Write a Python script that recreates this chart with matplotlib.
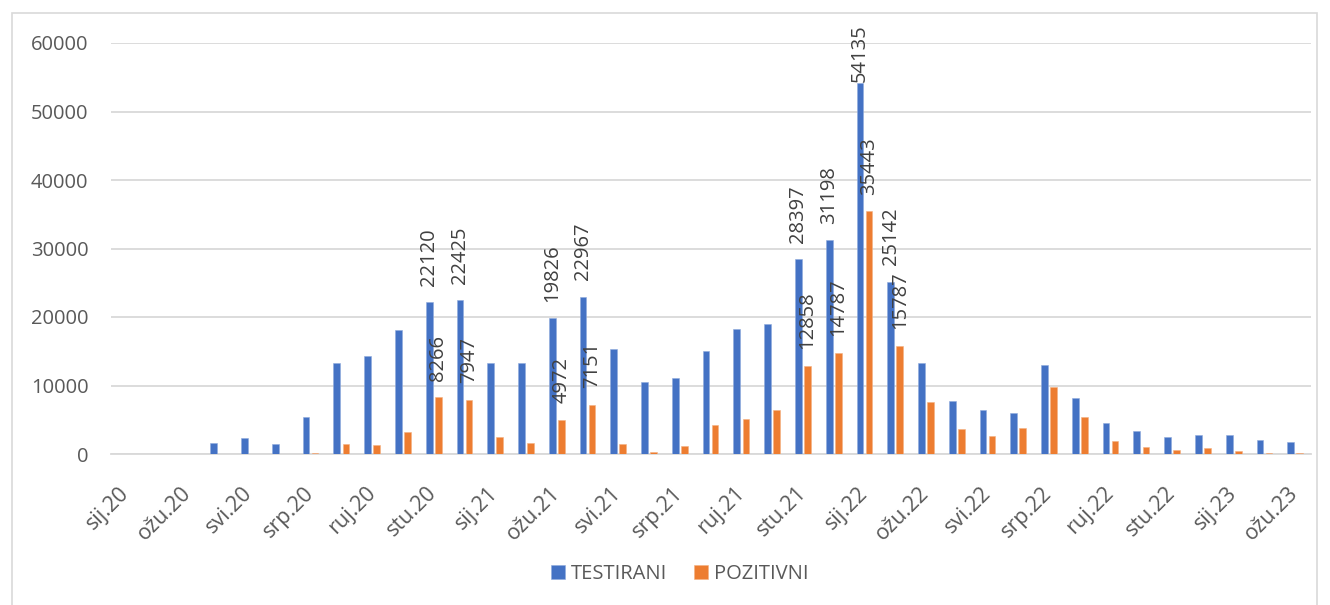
"""Mjesecni broj testiranih i pozitivnih, sij.20 - ozu.23."""

import matplotlib
matplotlib.use('Agg')
import matplotlib.pyplot as plt
from matplotlib.patches import Rectangle
import numpy as np

plt.rcParams['font.family'] = ['Open Sans', 'DejaVu Sans']

MONTHS = ['sij', 'velj', 'ožu', 'tra', 'svi', 'lip',
          'srp', 'kol', 'ruj', 'lis', 'stu', 'pro']
YEARS = ['20', '21', '22', '23']

categories = [f'{m}.{y}' for y in YEARS for m in MONTHS][:39]

testirani = [0, 0, 0, 1600, 2300, 1500, 5350, 13350, 14270, 18110, 22120, 22425,
             13240, 13240, 19826, 22967, 15280, 10540, 11130, 15100, 18200, 18980,
             28397, 31198, 54135, 25142, 13280, 7700, 6430, 6020, 13010, 8200,
             4570, 3360, 2440, 2770, 2770, 2090, 1750]

pozitivni = [0, 0, 0, 40, 40, 40, 150, 1520, 1370, 3250, 8266, 7947,
             2480, 1600, 4972, 7151, 1400, 250, 1130, 4220, 5150, 6370,
             12858, 14787, 35443, 15787, 7550, 3680, 2700, 3790, 9800, 5350,
             1900, 1070, 630, 880, 440, 150, 150]

# mjeseci s oznakama vrijednosti
labelled = ['stu.20', 'pro.20', 'ožu.21', 'tra.21', 'stu.21', 'pro.21', 'sij.22', 'velj.22']

BLUE = '#4472C4'
ORANGE = '#ED7D31'
GRID = '#D9D9D9'
TEXT = '#595959'

W, H = 1330, 605
fig = plt.figure(figsize=(W / 100, H / 100), dpi=100)
ax = fig.add_axes([110.6 / W, 151 / H, 1200 / W, 411 / H])

x = np.arange(len(categories))
bw = 0.218
off = 0.147
ax.bar(x - off, testirani, bw, color=BLUE, edgecolor='#8FAADC', linewidth=0.4, label='TESTIRANI', zorder=3)
ax.bar(x + off, pozitivni, bw, color=ORANGE, edgecolor='#F4B183', linewidth=0.4, label='POZITIVNI', zorder=3)

ax.set_xlim(-0.5, len(categories) - 0.5)
ax.set_ylim(0, 60000)
ax.set_yticks(np.arange(0, 60001, 10000))
ax.yaxis.grid(True, color=GRID, linewidth=1.3, zorder=0)
ax.set_axisbelow(True)
for s in ['top', 'right', 'left']:
    ax.spines[s].set_visible(False)
ax.spines['bottom'].set_color(GRID)
ax.spines['bottom'].set_linewidth(1.3)
ax.spines['bottom'].set_zorder(2)
ax.tick_params(axis='both', length=0, labelsize=14.5, labelcolor=TEXT)
ax.tick_params(axis='y', pad=16)

ax.set_xticks(x[::2])
ax.set_xticklabels(categories[::2], rotation=45, ha='right', va='center',
                   rotation_mode='anchor', fontsize=15.5)
ax.tick_params(axis='x', pad=26)

# oznake vrijednosti iznad stupaca
fig.canvas.draw()
renderer = fig.canvas.get_renderer()
top_limit = H - 24
for i, cat in enumerate(categories):
    if cat not in labelled:
        continue
    for xi, val in [(i - off, testirani[i]), (i + off, pozitivni[i])]:
        t = ax.annotate(f'{val}', (xi, val), xytext=(0, 12), textcoords='offset points',
                        rotation=90, ha='center', va='bottom', fontsize=14.5,
                        color='#404040', annotation_clip=False)
        ext = t.get_window_extent(renderer)
        if ext.y1 > top_limit:
            shift = (ext.y1 - top_limit) * 72 / 100
            t.xyann = (0, 12 - shift)

leg = fig.legend(loc='center', bbox_to_anchor=(0.511, 0.0512), ncol=2, frameon=False,
                 fontsize=14.5, handlelength=0.7, handleheight=0.7,
                 handletextpad=0.3, columnspacing=1.35)
for txt in leg.get_texts():
    txt.set_color(TEXT)

fig.add_artist(Rectangle((12 / W, -0.02), 1305 / W, (H - 13) / H + 0.02,
                         transform=fig.transFigure, fill=False,
                         edgecolor=GRID, linewidth=1.2))

fig.savefig('out.png', dpi=100)
